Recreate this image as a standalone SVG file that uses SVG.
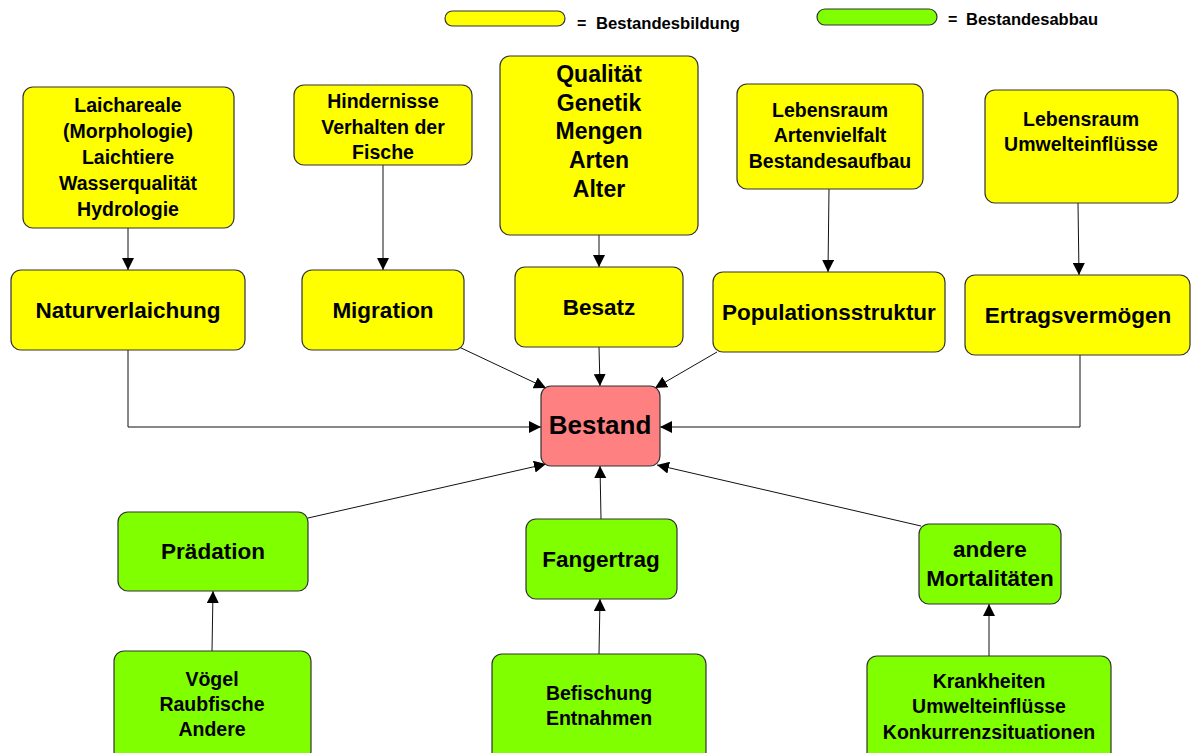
<svg xmlns="http://www.w3.org/2000/svg" width="1191" height="753" viewBox="0 0 1191 753">
<defs>
<marker id="ah" viewBox="0 0 10 10" refX="10" refY="5" markerWidth="12" markerHeight="12" markerUnits="userSpaceOnUse" orient="auto">
<path d="M0,0 L10,5 L0,10 z" fill="#000"/>
</marker>
</defs>
<style>
.y{fill:#FFFF00;stroke:#333;stroke-width:1.2}
.g{fill:#80FF00;stroke:#333;stroke-width:1.2}
.r{fill:#FF8080;stroke:#333;stroke-width:1.2}
text{font-family:"Liberation Sans",Arial,sans-serif;font-weight:bold;fill:#000;text-anchor:middle}
.s{font-size:19.5px}
.m{font-size:22.5px}
.q{font-size:23px}
.lg{font-size:16px;text-anchor:start}
.c{fill:none;stroke:#111;stroke-width:1;marker-end:url(#ah)}
</style>
<g id="legend">
<rect x="445" y="11" width="120" height="15" rx="7.5" class="y"/>
<text x="577" y="29" class="lg">=</text>
<text x="596" y="29" class="lg" textLength="144" lengthAdjust="spacingAndGlyphs">Bestandesbildung</text>
<rect x="817" y="9" width="120" height="16" rx="8" class="g"/>
<text x="948" y="25" class="lg">=</text>
<text x="966" y="25" class="lg" textLength="132" lengthAdjust="spacingAndGlyphs">Bestandesabbau</text>
</g>
<g id="connectors">
<line x1="128" y1="228" x2="128" y2="270" class="c"/>
<line x1="383" y1="165" x2="383" y2="270" class="c"/>
<line x1="599" y1="235" x2="599" y2="267" class="c"/>
<line x1="829" y1="189" x2="828" y2="272" class="c"/>
<line x1="1078" y1="203" x2="1079" y2="275" class="c"/>
<polyline points="128,350 128,427 541,427" class="c"/>
<line x1="459" y1="347" x2="546" y2="388" class="c"/>
<line x1="599" y1="347" x2="600" y2="386" class="c"/>
<line x1="717" y1="352" x2="655" y2="388" class="c"/>
<polyline points="1080,355 1080,427 660,427" class="c"/>
<line x1="308" y1="518" x2="546" y2="464" class="c"/>
<line x1="601" y1="519" x2="600" y2="466" class="c"/>
<line x1="921" y1="526" x2="657" y2="465" class="c"/>
<line x1="212" y1="651" x2="213" y2="591" class="c"/>
<line x1="599" y1="654" x2="600" y2="599" class="c"/>
<line x1="989" y1="656" x2="989" y2="604" class="c"/>
</g>
<g id="laichareale">
<rect x="23" y="87" width="211" height="141" rx="10" class="y"/>
<text x="128" y="112" class="s">Laichareale</text>
<text x="128" y="138" class="s">(Morphologie)</text>
<text x="128" y="164" class="s">Laichtiere</text>
<text x="128" y="190" class="s">Wasserqualität</text>
<text x="128" y="216" class="s">Hydrologie</text>
</g>
<g id="hindernisse">
<rect x="294" y="85" width="178" height="80" rx="10" class="y"/>
<text x="383" y="108" class="s">Hindernisse</text>
<text x="383" y="134" class="s">Verhalten der</text>
<text x="383" y="159" class="s">Fische</text>
</g>
<g id="qualitaet">
<rect x="500" y="56" width="198" height="179" rx="10" class="y"/>
<text x="599" y="82" class="q">Qualität</text>
<text x="599" y="111" class="q">Genetik</text>
<text x="599" y="139" class="q">Mengen</text>
<text x="599" y="168" class="q">Arten</text>
<text x="599" y="197" class="q">Alter</text>
</g>
<g id="lebensraum1">
<rect x="737" y="84" width="186" height="105" rx="10" class="y"/>
<text x="830" y="117" class="s">Lebensraum</text>
<text x="830" y="142" class="s">Artenvielfalt</text>
<text x="830" y="168" class="s">Bestandesaufbau</text>
</g>
<g id="lebensraum2">
<rect x="985" y="90" width="193" height="113" rx="10" class="y"/>
<text x="1081" y="126" class="s">Lebensraum</text>
<text x="1081" y="151" class="s">Umwelteinflüsse</text>
</g>
<g id="naturverlaichung">
<rect x="11" y="270" width="234" height="80" rx="10" class="y"/>
<text x="128" y="318" class="m">Naturverlaichung</text>
</g>
<g id="migration">
<rect x="302" y="270" width="162" height="80" rx="10" class="y"/>
<text x="383" y="318" class="m">Migration</text>
</g>
<g id="besatz">
<rect x="515" y="267" width="168" height="80" rx="10" class="y"/>
<text x="599" y="315" class="m">Besatz</text>
</g>
<g id="populationsstruktur">
<rect x="713" y="272" width="232" height="80" rx="10" class="y"/>
<text x="829" y="320" class="m">Populationsstruktur</text>
</g>
<g id="ertragsvermoegen">
<rect x="965" y="275" width="225" height="80" rx="10" class="y"/>
<text x="1078" y="323" class="m">Ertragsvermögen</text>
</g>
<g id="bestand">
<rect x="541" y="386" width="119" height="80" rx="10" class="r"/>
<text x="600" y="434" style="font-size:26px">Bestand</text>
</g>
<g id="praedation">
<rect x="118" y="512" width="190" height="79" rx="10" class="g"/>
<text x="213" y="559" class="m">Prädation</text>
</g>
<g id="fangertrag">
<rect x="526" y="519" width="151" height="80" rx="10" class="g"/>
<text x="601" y="567" class="m">Fangertrag</text>
</g>
<g id="mortalitaeten">
<rect x="919" y="524" width="142" height="80" rx="10" class="g"/>
<text x="990" y="557" class="m">andere</text>
<text x="990" y="586" class="m">Mortalitäten</text>
</g>
<g id="voegel">
<rect x="114" y="651" width="197" height="110" rx="10" class="g"/>
<text x="212" y="686" class="s">Vögel</text>
<text x="212" y="711" class="s">Raubfische</text>
<text x="212" y="736" class="s">Andere</text>
</g>
<g id="befischung">
<rect x="492" y="654" width="214" height="110" rx="10" class="g"/>
<text x="599" y="700" class="s">Befischung</text>
<text x="599" y="725" class="s">Entnahmen</text>
</g>
<g id="krankheiten">
<rect x="867" y="656" width="244" height="110" rx="10" class="g"/>
<text x="989" y="688" class="s">Krankheiten</text>
<text x="989" y="713" class="s">Umwelteinflüsse</text>
<text x="989" y="739" class="s">Konkurrenzsituationen</text>
</g>
</svg>
